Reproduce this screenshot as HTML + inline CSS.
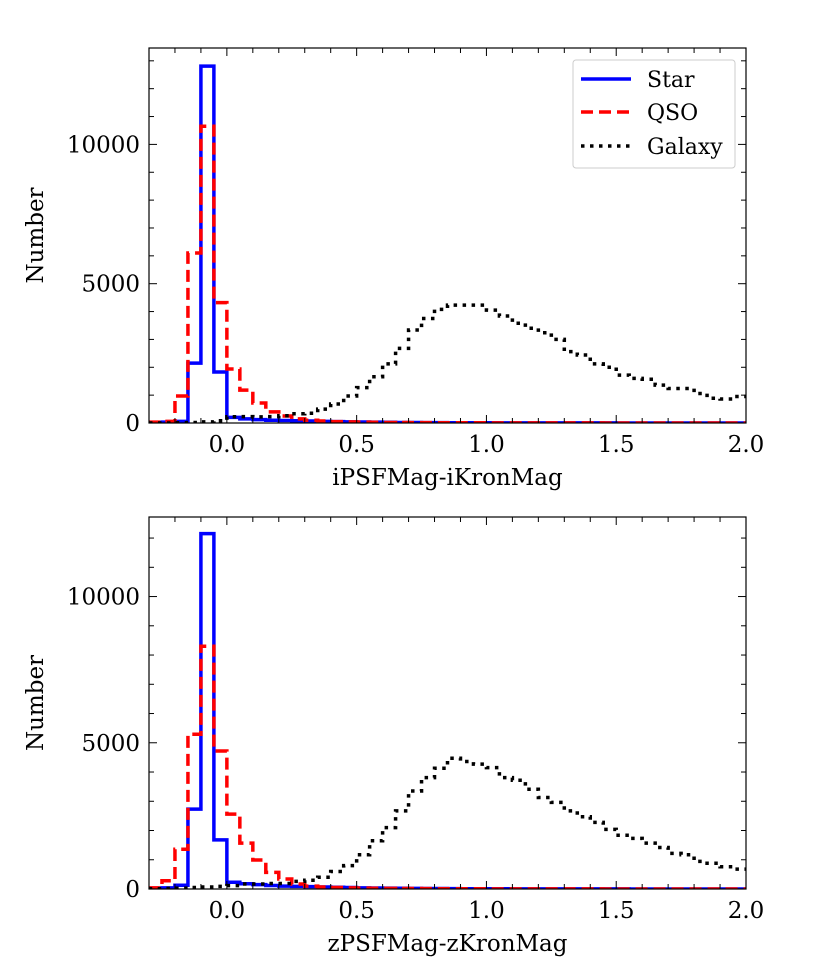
<!DOCTYPE html>
<html><head><meta charset="utf-8">
<style>
body{margin:0;background:#fff;}
svg{display:block;font-family:"DejaVu Serif","Liberation Serif",serif;}
</style></head>
<body>
<svg id="fig" width="830" height="969" viewBox="0 0 830 969" xmlns="http://www.w3.org/2000/svg"></svg>
<script>
const binStart = -0.3;
const binWidth = 0.05;
const xTickLabels = ["0.0","0.5","1.0","1.5","2.0"];
const xTickValues = [0,0.5,1.0,1.5,2.0];
const yTickValues = [0,5000,10000];
const yTickLabels = ["0","5000","10000"];
const seriesNames = ["Star","QSO","Galaxy"];

const starTop = [10,30,60,2150,12810,1830,200,150,120,100,90,80,70,60,50,40,35,30,25,20,18,15,12,10,10,8,8,6,6,5,5,4,4,3,3,3,2,2,2,2,2,1,1,1,1,1];
const qsoTop = [30,60,970,6100,10650,4320,1940,1180,720,400,250,150,100,70,50,40,30,25,20,18,15,12,10,10,8,8,6,6,5,5,4,4,3,3,3,2,2,2,2,2,1,1,1,1,1,1];
const galaxyTop = [0,0,10,20,40,80,226,230,220,230,260,330,350,500,680,970,1270,1660,2120,2680,3340,3750,4080,4230,4230,4230,4050,3840,3580,3400,3240,3000,2560,2440,2120,2000,1720,1600,1570,1360,1240,1240,1060,890,860,950];

const starBot = [30,40,130,2730,12150,1680,230,180,150,120,100,90,80,70,60,50,40,35,30,25,20,18,15,12,10,10,8,8,6,6,5,5,4,4,3,3,3,2,2,2,2,1,1,1,1,1];
const qsoBot = [40,280,1360,5290,8300,4720,2560,1570,990,570,340,170,100,70,50,40,30,25,20,18,15,12,10,10,8,8,6,6,5,5,4,4,3,3,3,2,2,2,2,2,1,1,1,1,1,1];
const galaxyBot = [10,20,30,50,70,90,115,170,170,190,190,260,300,400,600,800,1170,1650,2100,2670,3350,3810,4130,4470,4360,4270,4150,3810,3720,3410,3130,2960,2670,2470,2280,2040,1840,1730,1570,1420,1220,1170,945,880,760,680];

const NS="http://www.w3.org/2000/svg";
const svg=document.getElementById('fig');
function el(tag,attrs,parent){const e=document.createElementNS(NS,tag);for(const k in attrs)e.setAttribute(k,attrs[k]);(parent||svg).appendChild(e);return e;}

function panel(cfg){
  const g=el('g',{});
  
  
  const L=149,R=746,T=cfg.top,B=cfg.bottom;
  const xmin=-0.3,xmax=2.0,ymax=cfg.ymax;
  const sx=v=>L+(v-xmin)/(xmax-xmin)*(R-L);
  const sy=v=>B-v/ymax*(B-T);
  const clip='clip'+cfg.name;
  const cp=el('clipPath',{id:clip},g);el('rect',{x:L,y:T-5,width:R-L,height:B-T+5},cp);
  const styles=[
    {d:cfg.star,stroke:'#0000ff',dash:'none',n:'star-histogram'},
    {d:cfg.qso,stroke:'#ff0000',dash:'12,6',n:'qso-histogram'},
    {d:cfg.gal,stroke:'#000000',dash:'3.5,5.5',n:'galaxy-histogram'}];
  for(const s of styles){
    let p='M'+sx(binStart)+','+sy(0);
    s.d.forEach((v,i)=>{const x0=sx(binStart+i*binWidth),x1=sx(binStart+(i+1)*binWidth);p+=' L'+x0+','+sy(v)+' L'+x1+','+sy(v);});
    const path=el('path',{d:p,fill:'none',stroke:s.stroke,'stroke-width':3.5,'stroke-dasharray':s.dash,'clip-path':'url(#'+clip+')'},g);
    
    
  }
  el('rect',{x:L,y:T,width:R-L,height:B-T,fill:'none',stroke:'#000','stroke-width':1.2},g);
  for(let k=-3;k<=20;k++){const v=k/10;const x=sx(v);const major=(k%5===0);const len=major?8:5;
    el('line',{x1:x,y1:B,x2:x,y2:B-len,stroke:'#000','stroke-width':1},g);
    el('line',{x1:x,y1:T,x2:x,y2:T+len,stroke:'#000','stroke-width':1},g);}
  xTickValues.forEach((v,i)=>{const t=el('text',{x:sx(v),y:B+29,'text-anchor':'middle','font-size':23},g);t.textContent=xTickLabels[i];
    });
  for(let v=0;v<=ymax;v+=1000){const y=sy(v);const major=(v%5000===0);const len=major?8:5;
    el('line',{x1:L,y1:y,x2:L+len,y2:y,stroke:'#000','stroke-width':1},g);
    el('line',{x1:R,y1:y,x2:R-len,y2:y,stroke:'#000','stroke-width':1},g);}
  yTickValues.forEach((v,i)=>{const t=el('text',{x:L-9,y:sy(v)+8,'text-anchor':'end','font-size':23},g);t.textContent=yTickLabels[i];
    });
  const xl=el('text',{x:(L+R)/2,y:B+62,'text-anchor':'middle','font-size':23},g);xl.textContent=cfg.xlabel;
  
  const cy=(T+B)/2;
  const yl=el('text',{x:43,y:cy,'text-anchor':'middle','font-size':23,transform:'rotate(-90 43 '+cy+')'},g);yl.textContent='Number';
  
  if(cfg.legend){
    const lg=el('g',{},g);
    
    el('rect',{x:573,y:60,width:162,height:108,rx:3,fill:'#fff',stroke:'#ccc','stroke-width':1},lg);
    const ys=[79,112,146];
    styles.forEach((s,i)=>{
      const ln=el('line',{x1:581,y1:ys[i],x2:631,y2:ys[i],stroke:s.stroke,'stroke-width':3.5,'stroke-dasharray':s.dash},lg);
      
      const t=el('text',{x:647,y:ys[i]+8,'font-size':22},lg);t.textContent=seriesNames[i];
      
    });
  }
}
panel({name:'top-panel',top:48,bottom:423,ymax:13460,star:starTop,qso:qsoTop,gal:galaxyTop,xlabel:'iPSFMag-iKronMag',legend:true});
panel({name:'bottom-panel',top:517,bottom:889,ymax:12720,star:starBot,qso:qsoBot,gal:galaxyBot,xlabel:'zPSFMag-zKronMag',legend:false});
</script>
</body></html>
